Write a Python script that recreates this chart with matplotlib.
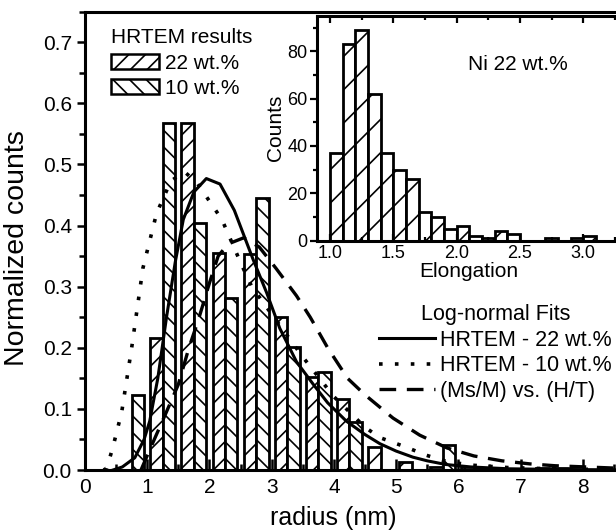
import matplotlib
matplotlib.use('Agg')
import matplotlib.pyplot as plt
from matplotlib.ticker import MultipleLocator, FormatStrFormatter
from matplotlib.patches import Patch
from matplotlib.lines import Line2D
import numpy as np

plt.rcParams['font.family'] = ['Liberation Sans', 'DejaVu Sans']
plt.rcParams['hatch.linewidth'] = 1.2

# HRTEM radius histograms (bin centres in nm, normalized counts)
bin_centers = [0.75, 1.25, 1.75, 2.25, 2.75, 3.25, 3.75, 4.25, 4.75, 5.25, 5.75, 6.25, 6.75, 7.25, 7.75]
counts_22 = [0.0, 0.216, 0.568, 0.355, 0.353, 0.251, 0.153, 0.116, 0.038, 0.013, 0.005, 0.005, 0.0, 0.0, 0.004]
counts_10 = [0.122, 0.568, 0.404, 0.282, 0.445, 0.202, 0.161, 0.079, 0.0, 0.0, 0.041, 0.004, 0.0, 0.004, 0.0]

# log-normal fit curves
fit22_x = [0.45, 0.6, 0.8, 0.95, 1.04, 1.17, 1.31, 1.45, 1.58, 1.75, 1.95, 2.17, 2.4, 2.7, 2.92,
           3.13, 3.4, 3.67, 3.9, 4.2, 4.5, 4.74, 5.0, 5.27, 5.5, 5.8, 6.2, 6.8, 7.5, 8.8]
fit22_y = [0.0, 0.005, 0.02, 0.05, 0.08, 0.15, 0.25, 0.34, 0.41, 0.455, 0.477, 0.468, 0.425, 0.345, 0.29,
           0.232, 0.177, 0.14, 0.11, 0.08, 0.058, 0.043, 0.031, 0.021, 0.015, 0.009, 0.005, 0.002, 0.001, 0.0]
fit10_x = [0.3, 0.35, 0.45, 0.59, 0.75, 0.93, 1.15, 1.38, 1.6, 1.8, 2.02, 2.2, 2.52, 2.68, 3.0,
           3.25, 3.5, 4.0, 4.5, 4.74, 5.17, 5.49, 5.81, 6.2, 6.8, 7.5, 8.8]
fit10_y = [0.0, 0.003, 0.038, 0.095, 0.2, 0.33, 0.42, 0.473, 0.488, 0.47, 0.437, 0.41, 0.335, 0.3, 0.255,
           0.22, 0.185, 0.12, 0.07, 0.053, 0.037, 0.024, 0.014, 0.008, 0.004, 0.002, 0.0]
fitmag_x = [0.9, 1.04, 1.3, 1.5, 1.67, 1.82, 2.0, 2.14, 2.3, 2.55, 2.8, 3.07, 3.4, 3.62, 3.9,
            4.22, 4.5, 4.95, 5.38, 5.82, 6.25, 6.7, 7.15, 7.55, 8.8]
fitmag_y = [0.0, 0.033, 0.093, 0.14, 0.2, 0.245, 0.306, 0.35, 0.37, 0.38, 0.365, 0.33, 0.285, 0.25, 0.2,
            0.15, 0.123, 0.085, 0.057, 0.036, 0.023, 0.015, 0.01, 0.007, 0.002]

# inset: elongation histogram
elong_left = [1.0, 1.1, 1.2, 1.3, 1.4, 1.5, 1.6, 1.7, 1.8, 1.9, 2.0,
              2.1, 2.2, 2.3, 2.4, 2.5, 2.6, 2.7, 2.8, 2.9, 3.0]
elong_counts = [37, 83, 89, 62, 37, 30, 26, 12, 10, 5, 6,
                2, 1, 4, 3, 0, 0, 1, 0, 1, 2]

x_ticks = [0, 1, 2, 3, 4, 5, 6, 7, 8]

W, H = 616, 532
fig = plt.figure(figsize=(W / 100, H / 100), dpi=100)

# main axes extends past the right edge of the picture (cropped original)
ax = fig.add_axes([85 / W, (H - 470) / H, 560 / W, 458.25 / H])
bw = 0.2
ax.bar(np.array(bin_centers) - bw, counts_22, width=bw, align='edge', facecolor='white',
       edgecolor='black', linewidth=2, hatch='//', zorder=2)
ax.bar(np.array(bin_centers), counts_10, width=bw, align='edge', facecolor='white',
       edgecolor='black', linewidth=2, hatch='\\\\', zorder=2)

ax.plot(fit22_x, fit22_y, color='black', lw=2.2, zorder=3)
ax.plot(fit10_x, fit10_y, color='black', lw=2.6, dashes=(1.0, 3.4), zorder=3)
ax.plot(fitmag_x, fitmag_y, color='black', lw=2.4, dashes=(5.0, 3.2), zorder=3)

ax.set_xlim(0, 9)
ax.set_ylim(0, 0.75)
ax.set_xticks(x_ticks)
ax.xaxis.set_minor_locator(MultipleLocator(0.5))
ax.yaxis.set_major_locator(MultipleLocator(0.1))
ax.yaxis.set_minor_locator(MultipleLocator(0.05))
ax.yaxis.set_major_formatter(FormatStrFormatter('%.1f'))
ax.tick_params(axis='x', which='both', direction='in', labelsize=15, width=1.8, pad=6)
ax.tick_params(axis='x', which='major', length=8)
ax.tick_params(axis='x', which='minor', length=4)
ax.tick_params(axis='y', which='both', direction='out', labelsize=15, width=1.8)
ax.tick_params(axis='y', which='major', length=6)
ax.tick_params(axis='y', which='minor', length=4)
for s in ax.spines.values():
    s.set_linewidth(2.2)
ax.set_xlabel('radius (nm)', fontsize=18)
ax.xaxis.set_label_coords((333 - 85) / 560, -0.078)
ax.set_ylabel('Normalized counts', fontsize=20.5)
ax.yaxis.set_label_coords(-(85 - 30) / 560, 0.485)

h1 = [Patch(facecolor='white', edgecolor='black', hatch='//', linewidth=1.8),
      Patch(facecolor='white', edgecolor='black', hatch='\\\\', linewidth=1.8)]
leg1 = ax.legend(h1, ['22 wt.%', '10 wt.%'], title='HRTEM results', loc='upper left',
                 bbox_to_anchor=((101 - 85) / 560, (470 - 18) / 458.25), frameon=False,
                 fontsize=15, title_fontsize=15, borderpad=0, handlelength=2.3, handleheight=0.75,
                 handletextpad=0.25, labelspacing=0.3, alignment='left')
ax.add_artist(leg1)

h2 = [Line2D([], [], color='black', lw=2.2),
      Line2D([], [], color='black', lw=2.6, dashes=(1.0, 3.4)),
      Line2D([], [], color='black', lw=2.4, dashes=(5.0, 3.2))]
ax.legend(h2, ['HRTEM - 22 wt.%', 'HRTEM - 10 wt.%', '(Ms/M) vs. (H/T)'], title='Log-normal Fits',
          loc='upper right', bbox_to_anchor=((622 - 85) / 560, (470 - 293) / 458.25), frameon=False,
          fontsize=15.5, title_fontsize=15.5, borderpad=0, handlelength=2.6, handletextpad=0.2,
          labelspacing=0.22)

# inset
ins = fig.add_axes([317.3 / W, (H - 240.7) / H, 304 / W, 225 / H])
ins.bar(elong_left, elong_counts, width=0.1, align='edge', facecolor='white', edgecolor='black',
        linewidth=2, hatch='/')
ins.set_xlim(0.9, 3.3)
ins.set_ylim(0, 95)
ins.xaxis.set_major_locator(MultipleLocator(0.5))
ins.xaxis.set_minor_locator(MultipleLocator(0.25))
ins.xaxis.set_major_formatter(FormatStrFormatter('%.1f'))
ins.yaxis.set_major_locator(MultipleLocator(20))
ins.yaxis.set_minor_locator(MultipleLocator(10))
ins.tick_params(axis='x', which='both', direction='in', top=True, labelsize=13, width=1.6, pad=3)
ins.tick_params(axis='y', which='both', direction='out', labelsize=13, width=1.6, pad=2)
ins.tick_params(which='major', length=5)
ins.tick_params(which='minor', length=3)
ins.tick_params(axis='y', which='both', right=True)
for s in ins.spines.values():
    s.set_linewidth(2.2)
ins.set_xlabel('Elongation', fontsize=15, labelpad=0)
ins.set_ylabel('Counts', fontsize=15, labelpad=2)
ins.text(2.09, 74.5, 'Ni 22 wt.%', fontsize=15, va='center', ha='left')

fig.savefig('out.png', dpi=100)
